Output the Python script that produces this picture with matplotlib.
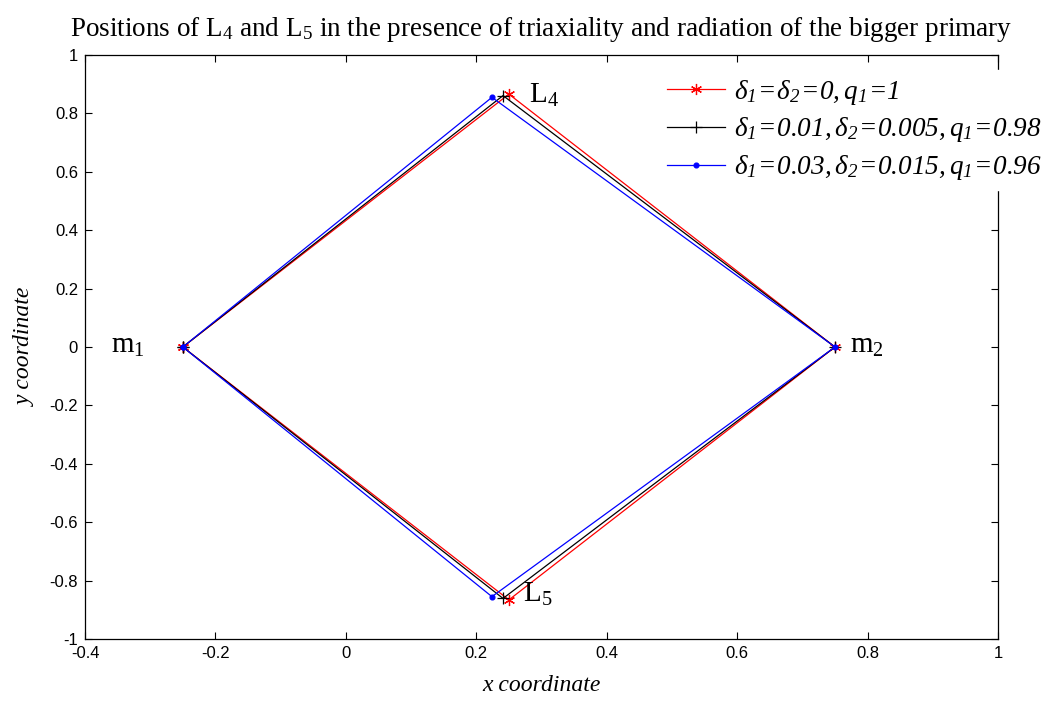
import numpy as np
import matplotlib
matplotlib.use("Agg")
import matplotlib.pyplot as plt

plt.rcParams['mathtext.fontset'] = 'custom'
plt.rcParams['mathtext.rm'] = 'Liberation Serif'
plt.rcParams['mathtext.it'] = 'Liberation Serif:italic'
plt.rcParams['mathtext.sf'] = 'Liberation Serif:italic'
plt.rcParams['mathtext.bf'] = 'Liberation Serif:bold'

# primaries and triangular points for each case (mu = 0.25)
m1 = (-0.25, 0.0)
m2 = (0.75, 0.0)
l4_x = [0.25, 0.241, 0.224]
l4_y = [0.866, 0.861, 0.855]
labels = [r'$\mathsf{\delta_1\!=\!\delta_2\!=\!0,q_1\!=\!1}$',
          r'$\mathsf{\delta_1\!=\!0.01,\delta_2\!=\!0.005,q_1\!=\!0.98}$',
          r'$\mathsf{\delta_1\!=\!0.03,\delta_2\!=\!0.015,q_1\!=\!0.96}$']
colors = ['red', 'black', 'blue']
markers = [(6, 2, 0), '+', '.']
msizes = [8, 8, 7]

fig = plt.figure(figsize=(10.54, 7.03), dpi=100)
ax = fig.add_axes([85 / 1054, 1 - 639 / 703, (998 - 85) / 1054, (639 - 55) / 703])

for xl, yl, c, mk, ms, lab in zip(l4_x, l4_y, colors, markers, msizes, labels):
    xs = [m1[0], xl, m2[0], xl, m1[0]]
    ys = [m1[1], yl, m2[1], -yl, m1[1]]
    ax.plot(xs, ys, color=c, marker=mk, lw=0.9, ms=ms, mew=0.9, label=lab)

ax.set_xlim(-0.4, 1.0)
ax.set_ylim(-1.0, 1.0)
ax.set_xticks(np.arange(-0.4, 1.01, 0.2))
ax.set_yticks(np.arange(-1.0, 1.01, 0.2))
ax.set_xticklabels(['-0.4', '-0.2', '0', '0.2', '0.4', '0.6', '0.8', '1'])
ax.set_yticklabels(['-1', '-0.8', '-0.6', '-0.4', '-0.2', '0', '0.2', '0.4', '0.6', '0.8', '1'])
ax.tick_params(direction='in', top=True, right=True, length=5, width=0.8,
               labelsize=12, pad=5)
for t in ax.get_xticklabels() + ax.get_yticklabels():
    t.set_family('Liberation Sans')
for s in ax.spines.values():
    s.set_linewidth(0.9)

ax.set_xlabel('x coordinate', family='Liberation Serif', style='italic', fontsize=17, labelpad=10)
ax.set_ylabel('y coordinate', family='Liberation Serif', style='italic', fontsize=17, labelpad=10)
ax.set_title(r'Positions of L$_4$ and L$_5$ in the presence of triaxiality and radiation of the bigger primary',
             family='Liberation Serif', fontsize=19.5, pad=14)

ax.text(0.281, 0.836, r'L$_4$', family='Liberation Serif', fontsize=21)
ax.text(0.272, -0.873, r'L$_5$', family='Liberation Serif', fontsize=21)
ax.text(-0.36, -0.02, r'm$_1$', family='Liberation Serif', fontsize=21)
ax.text(0.773, -0.02, r'm$_2$', family='Liberation Serif', fontsize=21)

leg = ax.legend(loc='upper left', bbox_to_anchor=(645 / 1054, 1 - 56 / 703),
                bbox_transform=fig.transFigure, prop={'family': 'Liberation Serif', 'size': 19.5},
                frameon=True, fancybox=False, framealpha=1, edgecolor='white',
                handlelength=2.15, labelspacing=0.32, handletextpad=0.35, borderpad=0.3)

fig.savefig('out.png', dpi=100)
